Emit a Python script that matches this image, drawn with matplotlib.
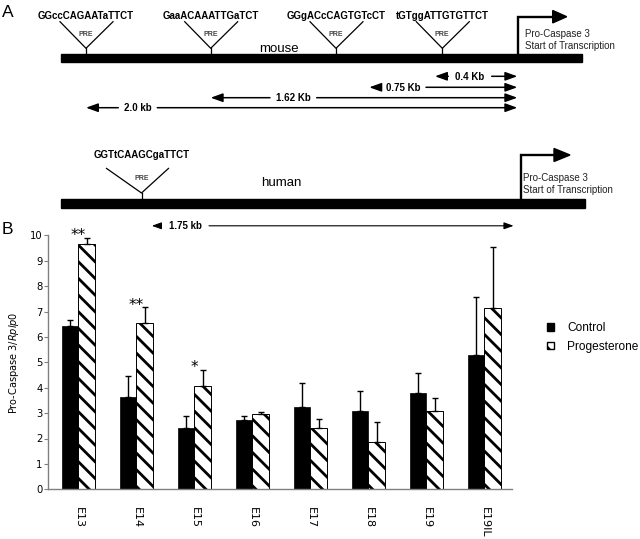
import matplotlib
matplotlib.use('Agg')
import matplotlib.pyplot as plt
from matplotlib.patches import Rectangle, Polygon, FancyArrowPatch, Patch
import numpy as np

# panel B values
stages = ['E13', 'E14', 'E15', 'E16', 'E17', 'E18', 'E19', 'E19IL']
control = [6.42, 3.62, 2.43, 2.72, 3.25, 3.08, 3.80, 5.27]
control_err = [0.26, 0.85, 0.47, 0.15, 0.93, 0.79, 0.77, 2.29]
progesterone = [9.66, 6.53, 4.08, 2.98, 2.40, 1.86, 3.07, 7.13]
progesterone_err = [0.24, 0.63, 0.62, 0.07, 0.35, 0.79, 0.53, 2.40]
signif = ['**', '**', '*', '', '', '', '', '']

# panel A schematic (positions are in pixel units of the schematic)
mouse_seqs = ['GGccCAGAATaTTCT', 'GaaACAAATTGaTCT', 'GGgACcCAGTGTcCT', 'tGTggATTGTGTTCT']
mouse_sites = [86, 210.7, 336, 442.3]
mouse_dist = ['0.4 Kb', '0.75 Kb', '1.62 Kb', '2.0 kb']
human_seqs = ['GGTtCAAGCgaTTCT']
human_sites = [141.5]
human_dist = ['1.75 kb']

SANS = 'Liberation Sans'
plt.rcParams['font.family'] = 'DejaVu Sans'
plt.rcParams['hatch.linewidth'] = 2.0

fig = plt.figure(figsize=(6.4, 5.39), dpi=100)

# ---------- panel A ----------
ax_a = fig.add_axes([0, 0, 1, 1])
ax_a.set_xlim(0, 640)
ax_a.set_ylim(539, 0)
ax_a.axis('off')


def pre_site(x, seq, y_text, y_top, y_apex, y_bar, dl=26, dr=27):
    ax_a.plot([x - dl, x, x + dr], [y_top, y_apex, y_top], color='black', lw=0.9)
    ax_a.plot([x, x], [y_apex, y_bar], color='black', lw=0.9)
    ax_a.text(x, y_text, seq, ha='center', va='baseline', fontsize=7,
              fontweight='bold', family=SANS)
    ax_a.text(x, y_apex - 12.5, 'PRE', ha='center', va='baseline', fontsize=5,
              fontweight='bold', family=SANS, color='#444444')


def tss(x, y_bar, y_top, x_head, x_tip, half_h, y_t1, y_t2, x_text):
    ax_a.plot([x, x, x_head], [y_bar, y_top, y_top], color='black', lw=1.7,
              solid_joinstyle='miter', solid_capstyle='butt')
    ax_a.add_patch(Polygon([(x_head, y_top - half_h), (x_tip, y_top),
                            (x_head, y_top + half_h)], closed=True, color='black'))
    ax_a.text(x_text, y_t1, 'Pro-Caspase 3', fontsize=7, family=SANS, va='baseline', color='#222222')
    ax_a.text(x_text, y_t2, 'Start of Transcription', fontsize=7, family=SANS, va='baseline', color='#222222')


def dist_arrow(y, x_tip_l, x_gap_l, x_gap_r, x_tip_r, label, lw=1.0, scale=10):
    for a, b in [(x_gap_l, x_tip_l), (x_gap_r, x_tip_r)]:
        ax_a.add_patch(FancyArrowPatch((a, y), (b, y), arrowstyle='-|>,head_length=0.72,head_width=0.26',
                                       mutation_scale=scale, lw=lw, color='black',
                                       shrinkA=0, shrinkB=0))
    ax_a.text((x_gap_l + x_gap_r) / 2, y + 3.4, label, ha='center', va='baseline',
              fontsize=7, fontweight='bold', family=SANS)


ax_a.text(2, 16.7, 'A', fontsize=12.5, family=SANS, va='baseline')
ax_a.text(2, 234, 'B', fontsize=12.5, family=SANS, va='baseline')

# mouse
ax_a.add_patch(Rectangle((60.7, 54.3), 521.6, 8, color='black'))
for x, seq in zip(mouse_sites, mouse_seqs):
    pre_site(x, seq, 19, 21.7, 48.3, 54.3)
ax_a.text(279, 52, 'mouse', ha='center', va='baseline', fontsize=9.5, family=SANS)
tss(518.3, 54.3, 16.7, 552.7, 566.7, 6.2, 36.7, 48.7, 525)

mouse_y = [76.3, 87.3, 97.7, 107.7]
mouse_tip_l = [435, 369.3, 210.7, 86]
mouse_gap_l = [448.3, 380, 270, 118.3]
mouse_gap_r = [491.7, 426, 316.7, 157.3]
for y, tl, gl, gr, lab in zip(mouse_y, mouse_tip_l, mouse_gap_l, mouse_gap_r, mouse_dist):
    dist_arrow(y, tl, gl, gr, 517.3, lab, lw=1.1)

# human
ax_a.add_patch(Rectangle((60.7, 199), 523.9, 9, color='black'))
for x, seq in zip(human_sites, human_seqs):
    pre_site(x, seq, 157.7, 168.4, 193, 199, dl=35, dr=27)
ax_a.text(281, 186, 'human', ha='center', va='baseline', fontsize=9.5, family=SANS)
tss(521, 199, 155, 554, 570, 6.5, 181, 193, 523)
dist_arrow(225.8, 151.8, 161, 209, 513.6, human_dist[0], lw=0.8, scale=8)

# ---------- panel B ----------
ax = fig.add_axes([48.3 / 640, 49.7 / 539, 463.4 / 640, 254 / 539])
x = np.arange(len(stages))
w = 0.288
zeros = [0] * len(stages)
ekw = dict(ecolor='black', elinewidth=1.0, capsize=2, capthick=1.0)
ax.bar(x - w / 2, control, w, color='black', edgecolor='black', lw=0.5,
       yerr=[zeros, control_err], error_kw=ekw, label='Control')
ax.bar(x + w / 2, progesterone, w, color='white', edgecolor='black', lw=0.7,
       hatch='\\\\', yerr=[zeros, progesterone_err], error_kw=ekw, label='Progesterone')

for i, s in enumerate(signif):
    if s:
        ax.text(x[i], progesterone[i] + progesterone_err[i] - 0.1, s, ha='center',
                va='baseline', fontsize=11)

ax.set_xlim(-0.52, 7.47)
ax.set_ylim(0, 10)
ax.set_yticks(range(11))
ax.set_xticks(x)
ax.set_xticklabels(stages, rotation=270)
for side in ['top', 'right']:
    ax.spines[side].set_visible(False)
for side in ['left', 'bottom']:
    ax.spines[side].set_color('#808080')
    ax.spines[side].set_linewidth(1.0)
ax.tick_params(axis='y', length=3, width=0.8, color='#808080', labelsize=7.2, pad=1)
ax.tick_params(axis='x', length=0, labelsize=8, pad=13)
ax.set_ylabel('Pro-Caspase 3/$\\it{Rplp0}$', fontsize=7)
ax.yaxis.set_label_coords(-0.059, 0.5)

handles = [Patch(facecolor='black', edgecolor='black'),
           Patch(facecolor='white', edgecolor='black', hatch='\\\\')]
fig.legend(handles, ['Control', 'Progesterone'], loc='center left',
           bbox_to_anchor=(547 / 640, (539 - 337.5) / 539), frameon=False,
           prop=dict(family=SANS, size=8.6), handlelength=0.6, handleheight=0.6,
           handletextpad=1.1, labelspacing=0.55, borderpad=0, borderaxespad=0)

fig.savefig('out.png', dpi=100)
